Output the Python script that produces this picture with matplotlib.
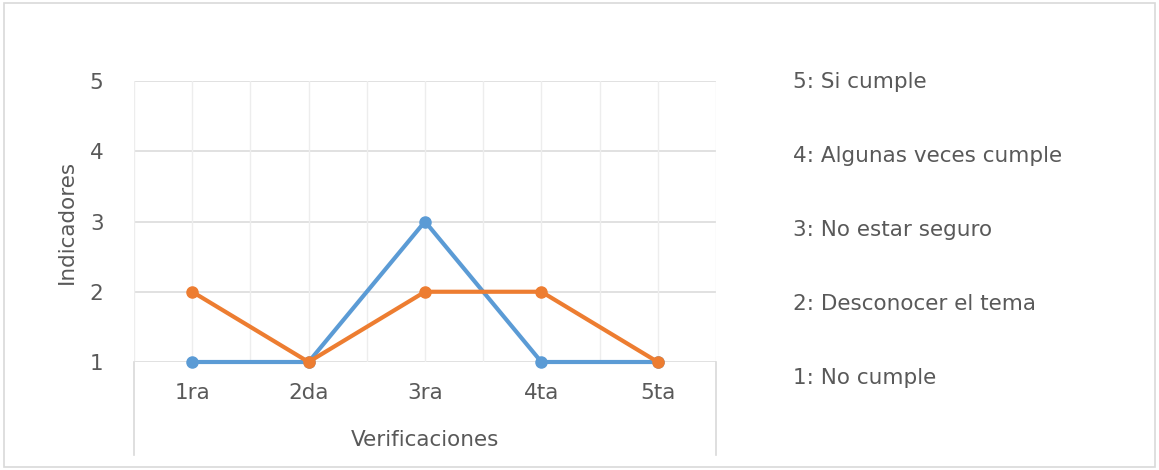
import matplotlib.pyplot as plt
from matplotlib.patches import Rectangle

# datos de las verificaciones
verificaciones = ["1ra", "2da", "3ra", "4ta", "5ta"]
serie_azul = [1, 1, 3, 1, 1]
serie_naranja = [2, 1, 2, 2, 1]
niveles = [1, 2, 3, 4, 5]
escala = ["5: Si cumple", "4: Algunas veces cumple", "3: No estar seguro",
          "2: Desconocer el tema", "1: No cumple"]

gris = "#595959"
fs = 15.5
plt.rcParams["font.family"] = ["DejaVu Sans"]

W, H = 1159, 470
fig = plt.figure(figsize=(W / 100, H / 100), dpi=100)
fig.patches.append(Rectangle((4 / W, 3 / H), 1151 / W, 464 / H, transform=fig.transFigure,
                             fill=False, edgecolor="#D9D9D9", linewidth=1.2))

ax = fig.add_axes([134 / W, 1 - 362 / H, 582 / W, 281 / H])
x = list(range(len(verificaciones)))

# rejilla: horizontales en cada nivel, verticales cada media categoria
for n in niveles:
    ax.axhline(n, color="#D9D9D9", linewidth=1.1, zorder=0)
for i in range(2 * len(verificaciones) + 1):
    ax.axvline(-0.5 + i * 0.5, color="#EDEDED", linewidth=1.0, zorder=0)

ax.plot(x, serie_azul, color="#5B9BD5", linewidth=3.0, marker="o", markersize=8,
        solid_capstyle="round", zorder=3, clip_on=False)
ax.plot(x, serie_naranja, color="#ED7D31", linewidth=3.0, marker="o", markersize=8,
        solid_capstyle="round", zorder=4, clip_on=False)

ax.set_xlim(-0.5, len(verificaciones) - 0.5)
ax.set_ylim(1, 5)
ax.set_yticks(niveles)
ax.set_xticks(x)
ax.set_xticklabels(verificaciones)
ax.tick_params(axis="x", length=0, pad=15, labelsize=fs, labelcolor=gris)
ax.tick_params(axis="y", length=0, pad=22, labelsize=fs, labelcolor=gris)
for s in ax.spines.values():
    s.set_visible(False)

# caja del eje de categorias
abajo = -(455 - 362) / 281
for xb in (0, 1):
    ax.plot([xb, xb], [0, abajo], transform=ax.transAxes, color="#D9D9D9",
            linewidth=1.2, clip_on=False)

ax.set_xlabel("Verificaciones", fontsize=fs, color=gris, va="center")
ax.xaxis.set_label_coords(0.5, -(440 - 362) / 281)
ax.set_ylabel("Indicadores", fontsize=fs, color=gris, va="center")
ax.yaxis.set_label_coords(-(134 - 67) / 582, 0.5)

# escala de valoracion a la derecha
for i, t in enumerate(escala):
    fig.text(793 / W, 1 - (82 + i * 74) / H, t, fontsize=fs, color=gris,
             ha="left", va="center")

fig.savefig("out.png", dpi=100)
